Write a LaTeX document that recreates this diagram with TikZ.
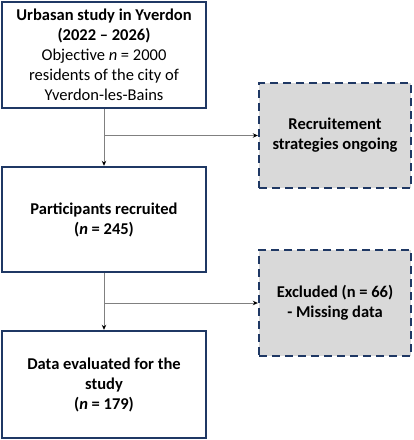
\documentclass[tikz,border=0pt]{standalone}
\usepackage{fontspec}
\setmainfont{Carlito}
\usetikzlibrary{arrows.meta}
\definecolor{navy}{HTML}{1F3864}
\definecolor{boxgray}{HTML}{D9D9D9}
\definecolor{linegray}{HTML}{808080}
\begin{document}
\begin{tikzpicture}[x=1pt,y=-1pt,
  mainbox/.style={draw=navy, line width=2.4pt, fill=white, minimum width=204pt, align=center, inner sep=0pt, font=\fontsize{16.5}{20}\selectfont},
  sidebox/.style={draw=navy, line width=2.4pt, dash pattern=on 8pt off 5pt, fill=boxgray, minimum width=152pt, minimum height=105pt, align=center, inner sep=0pt, font=\fontsize{16.5}{20}\selectfont\bfseries},
  conn/.style={draw=linegray, line width=0.8pt},
  arr/.style={conn, -{Stealth[length=5pt,width=4.5pt,color=black]}}]
\useasboundingbox (0,0) rectangle (414,440);
\node[mainbox, minimum height=106pt] (b1) at (104,55) {\textbf{Urbasan study in Yverdon}\\\textbf{(2022 – 2026)}\\Objective \textit{n} = 2000\\residents of the city of\\Yverdon-les-Bains};
\node[mainbox, minimum height=105pt] (b2) at (104,219.5) {\textbf{Participants recruited}\\\textbf{(\textit{n} = 245)}};
\node[mainbox, minimum height=107pt] (b3) at (104,384.5) {\textbf{Data evaluated for the}\\\textbf{study}\\\textbf{(\textit{n} = 179)}};
\node[sidebox] (d1) at (335,135.5) {Recruitement\\strategies ongoing};
\node[sidebox, minimum height=106pt] (d2) at (335,303) {Excluded (n = 66)\\- Missing data};
\coordinate (j1) at (b1.south |- d1.west);
\coordinate (j2) at (b2.south |- d2.west);
\draw[arr] (b1.south) -- (b2.north);
\draw[arr] (j1) -- (d1.west);
\draw[arr] (b2.south) -- (b3.north);
\draw[arr] (j2) -- (d2.west);
\end{tikzpicture}
\end{document}
